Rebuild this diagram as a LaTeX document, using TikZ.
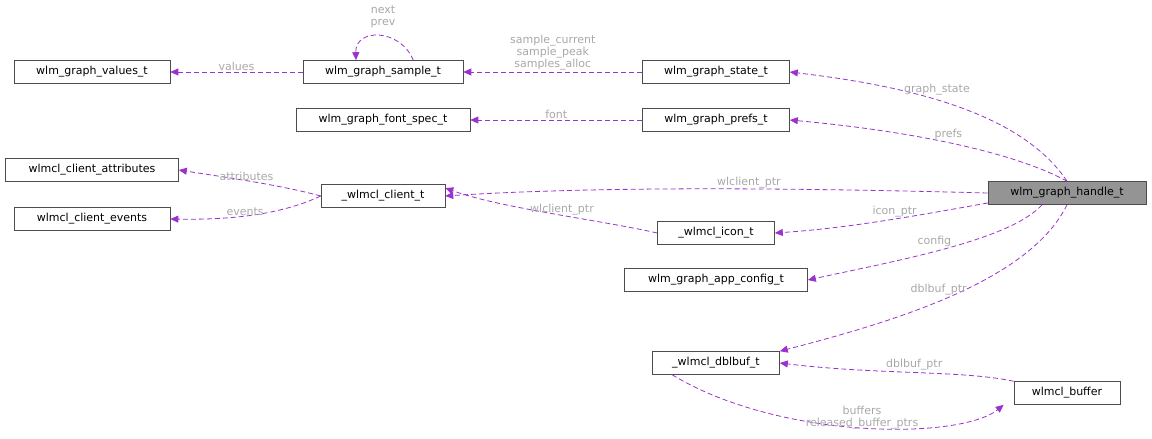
\documentclass[tikz,border=0pt]{standalone}
\usepackage{fontspec}
\setmainfont{DejaVu Sans}
\usetikzlibrary{arrows.meta}
\definecolor{edge}{HTML}{9A32CD}
\definecolor{lbl}{HTML}{A8A8A8}
\begin{document}
\begin{tikzpicture}[x=1pt,y=-1pt,
  box/.style={draw=black!70,line width=0.6pt,fill=white,minimum height=23pt,inner xsep=6pt,font=\fontsize{11}{13}\selectfont},
  e/.style={draw=edge,dashed,dash pattern=on 5pt off 3pt,line width=0.8pt,-{Triangle[length=8pt,width=7pt,fill=edge]}},
  l/.style={text=lbl,font=\fontsize{11}{12}\selectfont,align=center,inner sep=0pt}]
\useasboundingbox (0,0) rectangle (1152,439);
\node[box,minimum width=156pt] (values) at (92,72) {wlm\_graph\_values\_t};
\node[box,minimum width=160pt] (sample) at (383,72) {wlm\_graph\_sample\_t};
\node[box,minimum width=147pt] (state) at (716,72) {wlm\_graph\_state\_t};
\node[box,minimum width=174pt] (font) at (383,120) {wlm\_graph\_font\_spec\_t};
\node[box,minimum width=147pt] (prefs) at (716,120) {wlm\_graph\_prefs\_t};
\node[box,minimum width=173pt] (attr) at (92,170) {wlmcl\_client\_attributes};
\node[box,minimum width=124pt] (client) at (383,196) {\_wlmcl\_client\_t};
\node[box,minimum width=156pt] (events) at (92,219) {wlmcl\_client\_events};
\node[box,minimum width=158pt,fill=black!42] (handle) at (1067,193) {wlm\_graph\_handle\_t};
\node[box,minimum width=117pt] (icon) at (716,233) {\_wlmcl\_icon\_t};
\node[box,minimum width=183pt] (config) at (716,280) {wlm\_graph\_app\_config\_t};
\node[box,minimum width=127pt] (dbl) at (716,363) {\_wlmcl\_dblbuf\_t};
\node[box,minimum width=106pt] (buf) at (1067,393) {wlmcl\_buffer};

\draw[e] (sample) -- (values) node[l,midway,above=1pt] {values};
\draw[e] (state) -- (sample) node[l,pos=0.5,above=2pt] {sample\_current\\sample\_peak\\samples\_alloc};
\draw[e] (sample.north east) ++(-50,0) coordinate (s1) .. controls (400,28) and (355,28) .. ([xshift=-27pt]sample.north);
\node[l] (nl) at (383,17) {next\\prev};
\draw[e] (handle.north) .. controls (1020,110) and (900,85) .. (state.east) node[l,pos=0.55,above=4pt] {graph\_state};
\draw[e] (prefs) -- (font) node[l,midway,above=1pt] {font};
\draw[e] (handle.north) .. controls (1010,150) and (900,130) .. (prefs.east) node[l,pos=0.5,above=2pt] {prefs};
\draw[e] (client.west) .. controls (280,185) and (230,178) .. (attr.east) node[l,pos=0.55,above=0pt] {attributes};
\draw[e] (client.west) .. controls (280,215) and (230,220) .. (events.east) node[l,pos=0.55,above=0pt] {events};
\draw[e] (handle.west) .. controls (800,188) and (600,186) .. (client.east) node[l,pos=0.42,above=0pt] {wlclient\_ptr};
\draw[e] (icon.west) .. controls (600,220) and (500,208) .. ([yshift=8pt]client.east) node[l,pos=0.45,above=0pt] {wlclient\_ptr};
\draw[e] (handle.west) ++(0,10) .. controls (920,215) and (850,228) .. (icon.east) node[l,pos=0.45,above=1pt] {icon\_ptr};
\draw[e] ([xshift=-25pt]handle.south) .. controls (1010,240) and (900,260) .. (config.east) node[l,pos=0.55,above=4pt] {config};
\draw[e] (handle.south) .. controls (1030,280) and (900,320) .. (dbl.north east) node[l,pos=0.55,above=6pt] {dblbuf\_ptr};
\draw[e] (buf.north west) .. controls (960,370) and (880,375) .. (dbl.east) node[l,pos=0.5,above=2pt] {dblbuf\_ptr};
\draw[e] ([xshift=20pt]dbl.south west) .. controls (780,440) and (960,440) .. ([xshift=-10pt]buf.south west) node[l,pos=0.5,above=-2pt] {buffers\\released\_buffer\_ptrs};
\end{tikzpicture}
\end{document}
